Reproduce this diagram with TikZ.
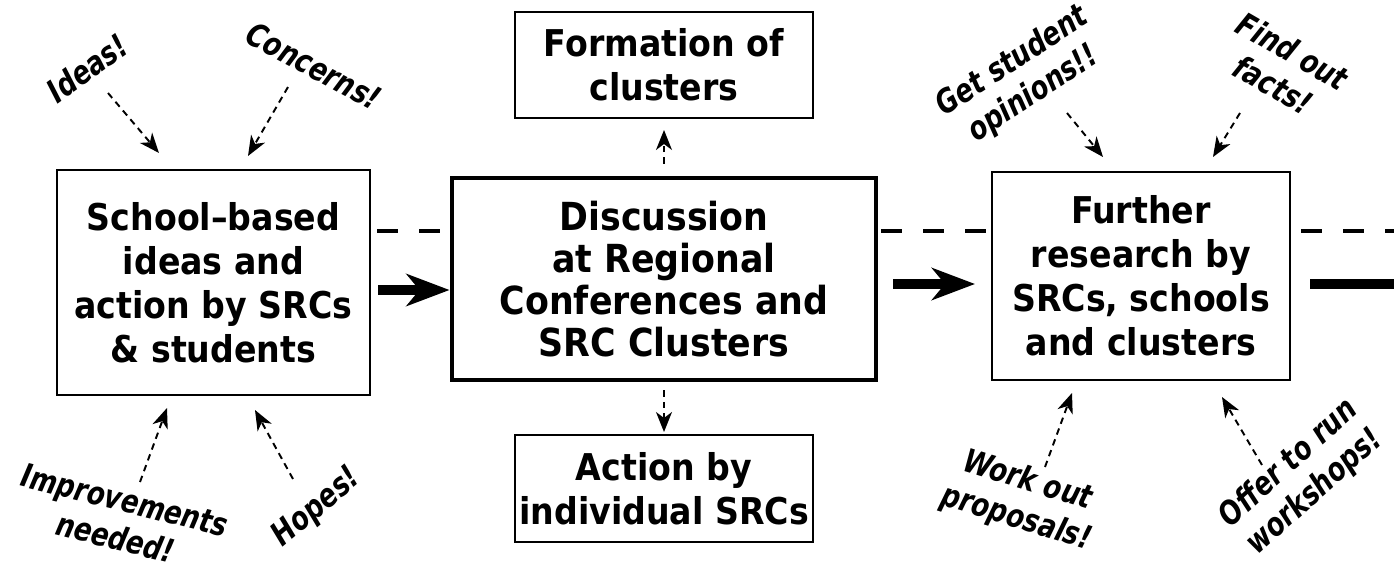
\documentclass[tikz,border=0pt]{standalone}
\usepackage{fontspec}
\setmainfont{DejaVu Sans}
\newfontfamily\boxfont{DejaVu Sans}[FakeStretch=0.9]
\newfontfamily\midfont{DejaVu Sans}[FakeStretch=0.9]
\newfontfamily\notefont{DejaVu Sans}[FakeStretch=0.8]
\usetikzlibrary{arrows.meta}
\tikzset{%
    box/.style={draw, line width=1.1pt, fill=white, inner sep=0pt, align=center,
        font=\boxfont\bfseries\fontsize{21}{25}\selectfont},
    mbox/.style={box, line width=2.8pt, font=\midfont\bfseries\fontsize{22}{24}\selectfont},
    note/.style={align=center, inner sep=0pt, font=\notefont\bfseries\itshape\fontsize{18.5}{22}\selectfont},
    nar/.style={line width=1.1pt, dash pattern=on 1.3mm off 1mm, -{Stealth[length=4mm, width=3.2mm, inset=1.2mm]}},
    pra/.style={line width=2mm, -{Stealth[length=8.6mm, width=6.4mm, inset=2.6mm]}},
    pri/.style={line width=2mm},
    dsh/.style={line width=0.87mm, dash pattern=on 4.2mm off 4.2mm},
}

\begin{document}
\begin{tikzpicture}[x=0.2mm, y=-0.2mm]
    \useasboundingbox (0,0) rectangle (1394,562);
    \coordinate (dl) at (377,231);
    \coordinate (dr) at (1394,231);
    \draw [dsh] (dl) -- (dr);
    \node [box, minimum width=62.6mm, minimum height=45mm] (school) at (213.5,282.5)
        {School\textendash based\\ideas and\\action by SRCs\\\& students};
    \node [mbox, minimum width=84.8mm, minimum height=40.4mm] (disc) at (664,279)
        {Discussion\\at Regional\\Conferences and\\SRC Clusters};
    \node [box, minimum width=59.6mm, minimum height=41.6mm] (further) at (1141,276)
        {Further\\research by\\SRCs, schools\\and clusters};
    \node [box, minimum width=59.6mm, minimum height=21.2mm] (form) at (664,65)
        {Formation of\\clusters};
    \node [box, minimum width=59.6mm, minimum height=21.4mm] (action) at (664,488.5)
        {Action by\\individual SRCs};
    \coordinate (a1) at (378,290);
    \coordinate (a2) at (893,284);
    \coordinate (a3) at (1310,284);
    \coordinate (a4) at (1394,284);
    \draw [pra] (a1) -- (disc.west |- a1);
    \draw [pra] (a2) -- (975,284);
    \draw [pri] (a3) -- (a4);
    \draw [nar] (disc.north) ++(0,-12) coordinate (f1) -- (664,130) coordinate (f2);
    \draw [nar] (disc.south) ++(0,8) coordinate (b1) -- (664,432) coordinate (b2);
    \node [note, rotate=36] (ideas) at (87,68) {Ideas!};
    \node [note, rotate=-28] (concerns) at (314,66) {Concerns!};
    \node [note, rotate=-14] (improve) at (120,519) {Improvements\\needed!};
    \node [note, rotate=40] (hopes) at (317,508) {Hopes!};
    \node [note, rotate=33] (opinions) at (1023,78) {Get student\\opinions!!};
    \node [note, rotate=-30] (facts) at (1283,68) {Find out\\facts!};
    \node [note, rotate=-17] (proposals) at (1022,500) {Work out\\proposals!};
    \node [note, rotate=42] (workshops) at (1302,478) {Offer to run\\workshops!};
    \coordinate (i1) at (108,93);   \coordinate (i2) at (159,153);
    \coordinate (c1) at (288,87);   \coordinate (c2) at (248,156);
    \coordinate (m1) at (140,482);  \coordinate (m2) at (167,408);
    \coordinate (h1) at (293,479);  \coordinate (h2) at (255,410);
    \coordinate (o1) at (1067,113); \coordinate (o2) at (1103,157);
    \coordinate (t1) at (1240,113); \coordinate (t2) at (1213,157);
    \coordinate (p1) at (1045,467); \coordinate (p2) at (1072,393);
    \coordinate (w1) at (1262,465); \coordinate (w2) at (1222,397);
    \draw [nar] (i1) -- (i2);
    \draw [nar] (c1) -- (c2);
    \draw [nar] (m1) -- (m2);
    \draw [nar] (h1) -- (h2);
    \draw [nar] (o1) -- (o2);
    \draw [nar] (t1) -- (t2);
    \draw [nar] (p1) -- (p2);
    \draw [nar] (w1) -- (w2);
\end{tikzpicture}
\end{document}
